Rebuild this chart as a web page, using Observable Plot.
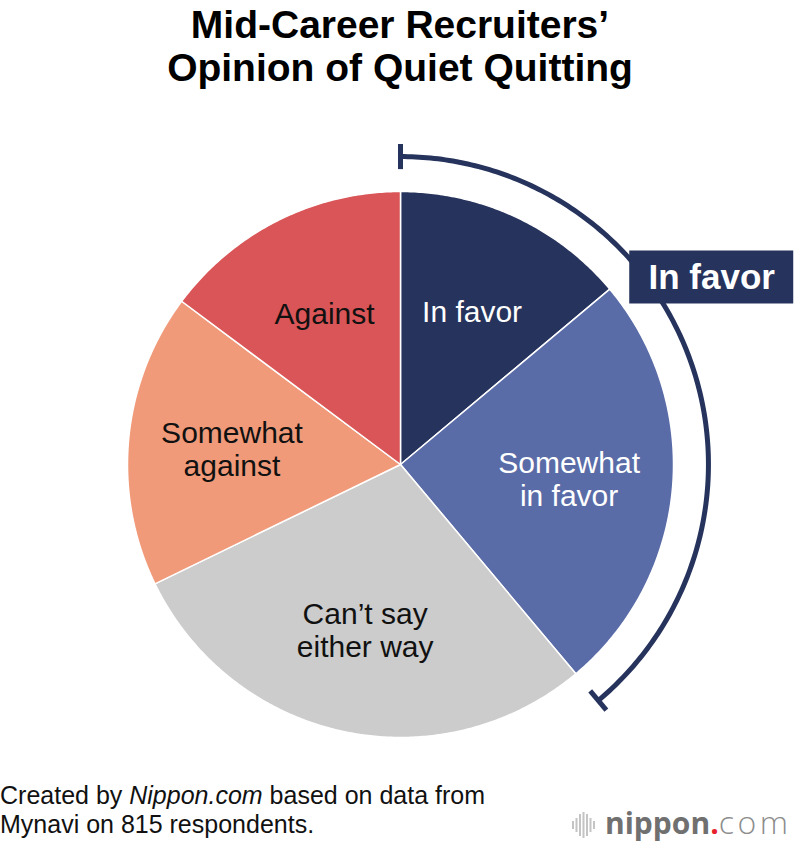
<!DOCTYPE html>
<html>
<head>
<meta charset="utf-8">
<script src="https://cdn.jsdelivr.net/npm/d3@7"></script>
<script src="https://cdn.jsdelivr.net/npm/@observablehq/plot@0.6"></script>
<style>
  html, body { margin: 0; padding: 0; background: #fff; }
  #page { position: relative; width: 800px; height: 846px; overflow: hidden; font-family: "Liberation Sans", Arial, Helvetica, sans-serif; }
  #title { position: absolute; left: 0; top: 3px; width: 800px; text-align: center; font-weight: 700; font-size: 39px; line-height: 43px; color: #000; }
  #chart { position: absolute; left: 0; top: 100px; }
  #caption { position: absolute; left: 0; top: 781px; font-size: 25px; line-height: 29px; color: #111; }
  #logo { position: absolute; left: 572px; top: 806px; height: 32px; display: flex; align-items: flex-end; }
  #logo .txt { font-family: "Open Sans", sans-serif; font-size: 30px; line-height: 30px; margin-left: 9px; white-space: nowrap; }
  #logo .n { font-weight: 700; color: #707070; }
  #logo .dot { font-weight: 700; color: #e8202a; }
  #logo .com { font-weight: 300; color: #8d8d8d; font-size: 32px; letter-spacing: 3.5px; }
</style>
</head>
<body>
<div id="page">
  <div id="title">Mid-Career Recruiters’<br>Opinion of Quiet Quitting</div>
  <div id="chart"></div>
  <div id="caption">Created by <i>Nippon.com</i> based on data from<br>Mynavi on 815 respondents.</div>
  <div id="logo">
    <svg width="24" height="26" viewBox="0 0 24 26">
      <g fill="#c4c4c4">
        <rect x="0" y="9" width="2" height="8"/>
        <rect x="3.5" y="6" width="2" height="14"/>
        <rect x="7" y="2" width="2" height="22"/>
        <rect x="10.5" y="0" width="2" height="26"/>
        <rect x="14" y="2" width="2" height="22"/>
        <rect x="17.5" y="6" width="2" height="14"/>
        <rect x="21" y="9" width="2" height="8"/>
      </g>
    </svg>
    <span class="txt"><span class="n">nippon</span><span class="dot">.</span><span class="com">com</span></span>
  </div>
</div>
<script>
// ---- data ----
const categories = ["In favor", "Somewhat in favor", "Can’t say either way", "Somewhat against", "Against"];
const values = [13.9, 25.0, 28.9, 17.4, 14.8];
const sliceLabels = ["In favor", "Somewhat\nin favor", "Can’t say\neither way", "Somewhat\nagainst", "Against"];
const sliceColors = ["#26335c", "#5a6ca8", "#cccccc", "#f09a7a", "#d95557"];
const labelOnDark = [true, true, false, false, false];
const bracketCategories = ["In favor", "Somewhat in favor"];
const bracketLabel = "In favor";
const navy = "#26335c";

// ---- geometry (scale units: 1 = pie radius) ----
const W = 800, H = 680;
const R = 273;          // pie radius in px
const cy = 364;         // pie centre from svg top
const xDomain = [-(W / 2) / R, (W / 2) / R];
const yDomain = [-(H - cy) / R, cy / R];

const pie = d3.pie().sort(null).startAngle(0).endAngle(2 * Math.PI)(values);
const polar = (r, a) => ({x: r * Math.sin(a), y: r * Math.cos(a)});

const slicePoints = [];
pie.forEach((p, i) => {
  const cat = categories[i];
  slicePoints.push({cat, ...polar(0, 0)});
  const n = Math.max(2, Math.ceil((p.endAngle - p.startAngle) / (Math.PI / 360)));
  for (let k = 0; k <= n; k++) {
    const a = p.startAngle + (p.endAngle - p.startAngle) * k / n;
    slicePoints.push({cat, ...polar(1, a)});
  }
  slicePoints.push({cat, ...polar(0, 0)});
});

const labelR = 0.62;
const labels = pie.map((p, i) => {
  const a = (p.startAngle + p.endAngle) / 2;
  return {text: sliceLabels[i], dark: labelOnDark[i], ...polar(labelR, a)};
});

// bracket over the "in favor" slices
const bIdx = bracketCategories.map(c => categories.indexOf(c));
const bStart = pie[bIdx[0]].startAngle;
const bEnd = pie[bIdx[bIdx.length - 1]].endAngle;
const bR = 1.128;
const bracketPts = d3.range(0, 201).map(k => polar(bR, bStart + (bEnd - bStart) * k / 200));
const capHalf = 0.046;
const caps = [bStart, bEnd].map(a => {
  const p1 = polar(bR - capHalf, a), p2 = polar(bR + capHalf, a);
  return {x1: p1.x, y1: p1.y, x2: p2.x, y2: p2.y};
});
// label box anchored outside the bracket
const boxAngle = 59 * Math.PI / 180, boxR = 1.33, boxW = 164 / R, boxH = 53 / R;
const boxC = polar(boxR, boxAngle);
const box = [{x1: boxC.x - boxW / 2, x2: boxC.x + boxW / 2, y1: boxC.y - boxH / 2, y2: boxC.y + boxH / 2, x: boxC.x, y: boxC.y, text: bracketLabel}];

const chart = Plot.plot({
  width: W,
  height: H,
  margin: 0,
  x: {domain: xDomain, axis: null},
  y: {domain: yDomain, axis: null},
  color: {domain: categories, range: sliceColors},
  style: {fontFamily: "'Liberation Sans', Arial, Helvetica, sans-serif", background: "white"},
  marks: [
    Plot.line(slicePoints, {x: "x", y: "y", z: "cat", fill: "cat", stroke: "white", strokeWidth: 1.5, strokeLinejoin: "round"}),
    Plot.text(labels.filter(d => d.dark), {x: "x", y: "y", text: "text", fill: "white", fontSize: 30, lineHeight: 1.1, lineAnchor: "middle", textAnchor: "middle"}),
    Plot.text(labels.filter(d => !d.dark), {x: "x", y: "y", text: "text", fill: "#111", fontSize: 30, lineHeight: 1.1, lineAnchor: "middle", textAnchor: "middle"}),
    Plot.line(bracketPts, {x: "x", y: "y", stroke: navy, strokeWidth: 5, strokeLinecap: "butt"}),
    Plot.link(caps, {x1: "x1", y1: "y1", x2: "x2", y2: "y2", stroke: navy, strokeWidth: 5, strokeLinecap: "butt"}),
    Plot.rect(box, {x1: "x1", x2: "x2", y1: "y1", y2: "y2", fill: navy}),
    Plot.text(box, {x: "x", y: "y", text: "text", fill: "white", fontSize: 35, fontWeight: 700, lineAnchor: "middle", textAnchor: "middle"})
  ]
});
document.getElementById("chart").appendChild(chart);
</script>
</body>
</html>
